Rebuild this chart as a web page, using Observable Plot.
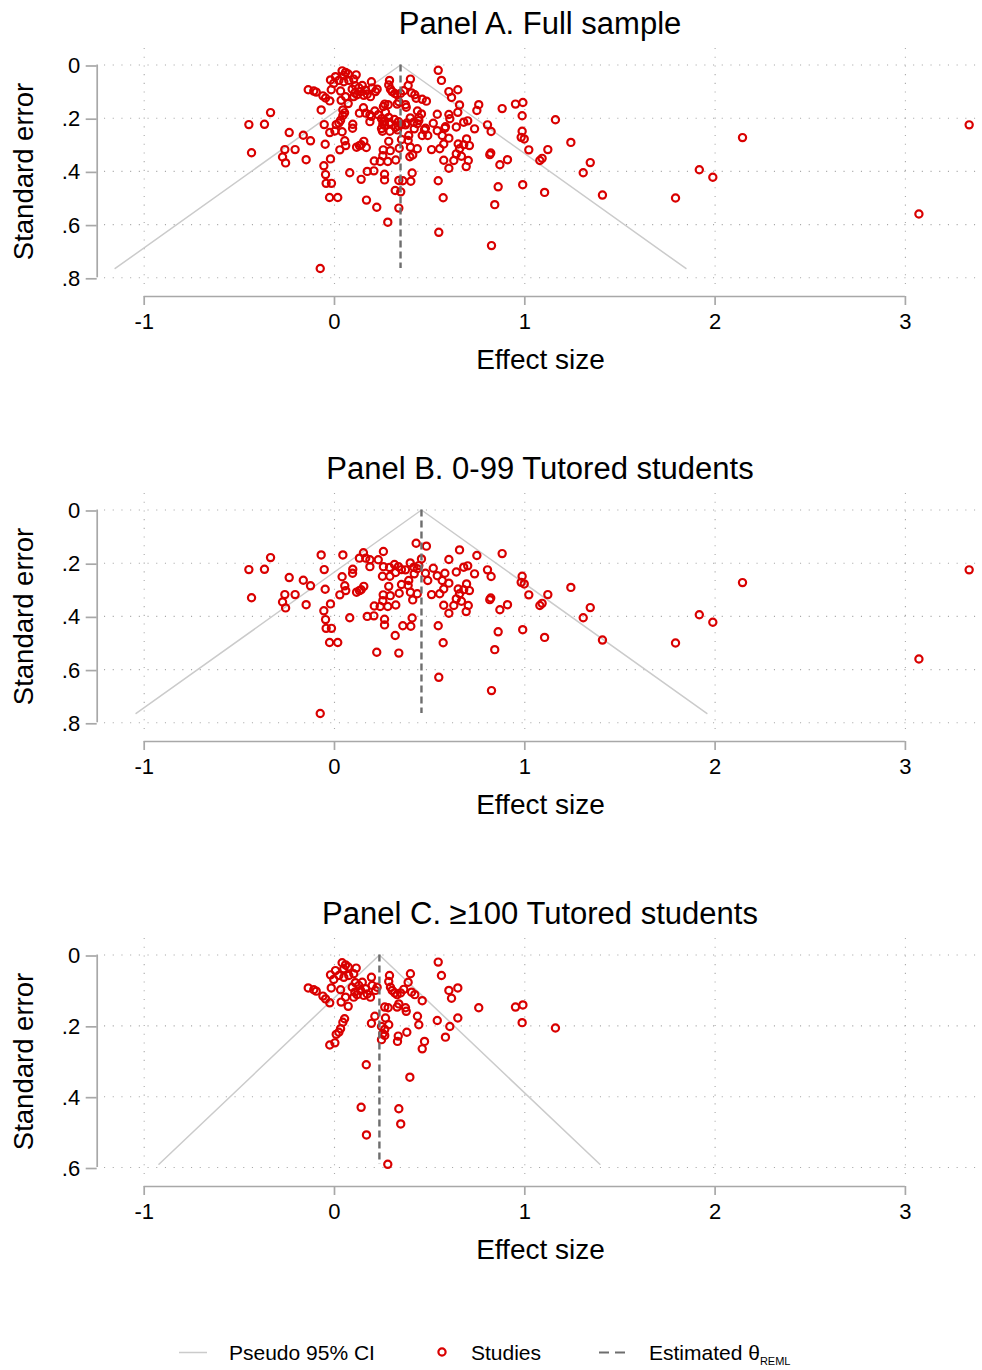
<!DOCTYPE html>
<html>
<head>
<meta charset="utf-8">
<script src="https://cdn.jsdelivr.net/npm/d3@7"></script>
<script src="https://cdn.jsdelivr.net/npm/@observablehq/plot@0.6"></script>
<style>
  body { margin: 0; background: #fff; font-family: "Liberation Sans", Arial, Helvetica, sans-serif; }
  #chart { position: relative; width: 982px; height: 1370px; overflow: hidden; }
  .panel { position: relative; width: 982px; height: 445px; }
  .ptitle { position: absolute; left: 100px; width: 880px; top: 0; height: 47px; line-height: 47px;
            text-align: center; font-size: 31px; color: #000; white-space: nowrap; }
  .panel svg { position: absolute; left: 0; top: 40px; }
  #legend { position: relative; width: 982px; height: 35px; font-size: 21px; color: #000; }
  #legend .lab { position: absolute; top: 0; height: 35px; line-height: 35px; white-space: nowrap; }
  #legend sub { font-size: 11px; vertical-align: -5px; }
</style>
</head>
<body>
<div id="chart"></div>
<script>
// ---------- data ----------
const panelTitles = ["Panel A. Full sample", "Panel B. 0-99 Tutored students", "Panel C. \u2265100 Tutored students"];
const xTicks = [-1, 0, 1, 2, 3];
const yTicksAB = [0, 0.2, 0.4, 0.6, 0.8];
const yTicksC = [0, 0.2, 0.4, 0.6];
const thetaA = 0.347, thetaB = 0.457, thetaC = 0.236;   // estimated theta (REML)

// Panel B: 0-99 tutored students
const esB = [-0.450,-0.368,-0.336,-0.436,-0.238,-0.164,-0.126,-0.261,-0.207,-0.273,-0.257,-0.149,-0.070,0.044,-0.054,-0.049,-0.021,-0.056,-0.047,-0.044,
  -0.016,-0.026,0.017,-0.075,0.040,0.054,0.059,0.028,0.080,0.096,0.095,0.152,0.131,0.164,0.186,0.186,0.230,0.257,0.116,0.131,
  0.154,0.140,0.172,0.207,0.209,0.222,0.338,0.319,0.263,0.263,0.240,0.280,0.322,0.256,0.254,0.285,0.293,0.340,0.352,0.252,
  0.291,0.359,0.257,0.289,0.315,0.336,0.352,0.321,0.429,0.483,0.457,0.398,0.373,0.417,0.435,0.443,0.419,0.478,0.519,0.540,
  0.580,0.601,0.657,0.748,0.881,0.640,0.679,0.700,0.736,0.804,0.823,0.986,0.981,0.997,1.021,1.121,1.079,1.091,0.390,0.387,
  0.399,0.411,0.435,0.490,0.510,0.566,0.601,0.553,0.574,0.574,0.601,0.627,0.640,0.657,0.667,0.679,0.694,0.709,0.692,0.703,
  0.650,0.816,0.821,0.869,0.909,0.408,0.401,0.545,0.571,0.860,0.842,0.989,1.104,0.548,0.825,1.242,1.344,1.307,1.408,1.792,
  1.917,1.988,2.144,3.071,3.335];
const seB = [0.224,0.223,0.179,0.330,0.254,0.264,0.285,0.318,0.318,0.346,0.368,0.356,0.169,0.169,0.224,0.298,0.353,0.379,0.412,0.445,
  0.445,0.498,0.498,0.765,0.251,0.285,0.303,0.319,0.405,0.223,0.238,0.161,0.181,0.181,0.187,0.213,0.187,0.156,0.309,0.303,
  0.287,0.300,0.400,0.398,0.361,0.535,0.538,0.472,0.411,0.432,0.363,0.363,0.357,0.319,0.341,0.287,0.322,0.313,0.280,0.249,
  0.249,0.435,0.213,0.216,0.205,0.213,0.224,0.235,0.125,0.136,0.184,0.199,0.225,0.215,0.221,0.209,0.240,0.238,0.219,0.247,
  0.238,0.186,0.150,0.171,0.164,0.233,0.215,0.210,0.240,0.225,0.250,0.249,0.272,0.278,0.319,0.318,0.359,0.351,0.265,0.284,
  0.309,0.338,0.315,0.265,0.318,0.265,0.275,0.315,0.297,0.358,0.388,0.359,0.334,0.315,0.343,0.300,0.278,0.303,0.382,0.359,
  0.297,0.337,0.331,0.375,0.356,0.406,0.437,0.435,0.499,0.458,0.525,0.450,0.479,0.629,0.679,0.291,0.367,0.405,0.489,0.500,
  0.394,0.422,0.273,0.560,0.225];

// Panel C: >=100 tutored students
const esC = [0.040,0.058,0.049,0.072,-0.021,0.005,-0.004,0.023,0.049,0.075,0.101,0.114,-0.138,-0.109,-0.096,-0.061,-0.047,-0.025,-0.017,0.032,
  0.035,0.072,0.058,0.093,0.110,0.128,0.146,0.107,0.137,0.163,0.172,0.189,0.154,0.198,0.224,0.215,0.194,0.119,0.101,0.289,
  0.285,0.294,0.303,0.317,0.329,0.347,0.364,0.399,0.387,0.405,0.422,0.461,0.264,0.282,0.329,0.338,0.373,0.377,0.212,0.194,
  0.247,0.264,0.254,0.268,0.285,0.247,0.264,0.053,0.044,0.032,0.023,0.009,0.002,-0.025,0.335,0.331,0.380,0.436,0.443,0.473,
  0.461,0.167,0.396,0.140,0.338,0.348,0.168,0.280,0.545,0.562,0.601,0.648,0.615,0.758,0.951,0.990,0.986,1.161,0.540,0.648,
  0.606,0.583];
const seC = [0.022,0.028,0.039,0.034,0.056,0.044,0.069,0.058,0.063,0.058,0.053,0.037,0.093,0.098,0.102,0.116,0.124,0.135,0.093,0.098,
  0.133,0.145,0.119,0.091,0.078,0.086,0.077,0.105,0.100,0.095,0.110,0.119,0.114,0.086,0.091,0.100,0.063,0.112,0.119,0.058,
  0.075,0.091,0.100,0.107,0.112,0.107,0.097,0.053,0.077,0.105,0.112,0.129,0.147,0.149,0.147,0.138,0.149,0.159,0.173,0.193,
  0.202,0.210,0.222,0.178,0.197,0.239,0.227,0.180,0.190,0.208,0.218,0.224,0.248,0.254,0.229,0.244,0.218,0.173,0.197,0.244,
  0.265,0.310,0.345,0.430,0.434,0.477,0.508,0.591,0.020,0.058,0.100,0.093,0.122,0.149,0.147,0.141,0.191,0.206,0.185,0.178,
  0.202,0.232];

// ---------- build ----------
const rows = (es, se) => es.map((e, i) => ({es: e, se: se[i]}));
const dataB = rows(esB, seB);
const dataC = rows(esC, seC);
const dataA = dataB.concat(dataC);

const red = "#d90000";
const gridC = "#a9a9a9";
const axisC = "#a8a8a8";
const ciC = "#cbcbcb";
const thetaCol = "#6e6e6e";
const fmtY = d => d === 0 ? "0" : String(d).replace(/^0/, "");

function panel(title, data, theta, yTicks, yDomain) {
  const seMax = d3.max(data, d => d.se);
  const funnel = [
    {es: theta - 1.96 * seMax, se: seMax},
    {es: theta, se: 0},
    {es: theta + 1.96 * seMax, se: seMax}
  ];
  const xDomain = [-1.2296, 3.3946];
  const plot = Plot.plot({
    width: 982, height: 405,
    marginTop: 8, marginBottom: 158, marginLeft: 100, marginRight: 2,
    style: {fontFamily: '"Liberation Sans", Arial, Helvetica, sans-serif', background: "transparent", overflow: "visible"},
    x: {domain: xDomain, axis: null},
    y: {domain: yDomain, reverse: true, axis: null},
    marks: [
      Plot.gridX({ticks: xTicks, stroke: gridC, strokeOpacity: 1, strokeWidth: 1.1, strokeDasharray: "1.1,7.6"}),
      Plot.gridY({ticks: yTicks, stroke: gridC, strokeOpacity: 1, strokeWidth: 1.1, strokeDasharray: "1.1,7.6", strokeDashoffset: -4}),
      // axis lines (Stata style, spanning the labelled range only)
      Plot.ruleY([yDomain[1]], {x1: xTicks[0], x2: xTicks[xTicks.length - 1], dy: 9, stroke: axisC, strokeWidth: 1.7}),
      Plot.ruleX([xDomain[0]], {y1: yTicks[0], y2: yTicks[yTicks.length - 1], dx: -3.3, stroke: axisC, strokeWidth: 1.7}),
      Plot.axisX({ticks: xTicks, tickFormat: d => String(d), tickSize: 9, tickPadding: 8, dy: 9,
                  stroke: axisC, strokeWidth: 1.7, fontSize: 22, fill: "#000", label: null}),
      Plot.axisY({ticks: yTicks, tickFormat: fmtY, tickSize: 11, tickPadding: 6, dx: -3.3, dy: 1,
                  stroke: axisC, strokeWidth: 1.7, fontSize: 22, fill: "#000", label: null}),
      Plot.text(["Effect size"], {frameAnchor: "bottom", lineAnchor: "middle", textAnchor: "middle", dy: 73, fontSize: 28, fill: "#000"}),
      Plot.text(["Standard error"], {frameAnchor: "left", textAnchor: "middle", lineAnchor: "middle", rotate: -90, dx: -76, dy: 3.5, fontSize: 27.5, fill: "#000"}),
      // pseudo 95% CI funnel
      Plot.line(funnel, {x: "es", y: "se", stroke: ciC, strokeWidth: 1.5}),
      // studies
      Plot.dot(data, {x: "es", y: "se", r: 3.6, stroke: red, strokeWidth: 2.2, fill: "none"}),
      // estimated theta
      Plot.ruleX([theta], {y1: 0, y2: seMax, stroke: thetaCol, strokeWidth: 2.4, strokeDasharray: "7,4"})
    ]
  });
  const div = document.createElement("div");
  div.className = "panel";
  const t = document.createElement("div");
  t.className = "ptitle";
  t.textContent = title;
  div.appendChild(t);
  div.appendChild(plot);
  return div;
}

const chart = document.getElementById("chart");
chart.appendChild(panel(panelTitles[0], dataA, thetaA, yTicksAB, [-0.062, 0.8365]));
chart.appendChild(panel(panelTitles[1], dataB, thetaB, yTicksAB, [-0.062, 0.8365]));
chart.appendChild(panel(panelTitles[2], dataC, thetaC, yTicksC, [-0.0466, 0.6282]));

// legend
const legend = document.createElement("div");
legend.id = "legend";
legend.innerHTML = `
  <svg width="982" height="35" style="position:absolute;left:0;top:0">
    <line x1="179" x2="207" y1="17.5" y2="17.5" stroke="${ciC}" stroke-width="1.5"/>
    <circle cx="442" cy="17" r="3.6" fill="none" stroke="${red}" stroke-width="2.2"/>
    <line x1="599" x2="625" y1="17.5" y2="17.5" stroke="${thetaCol}" stroke-width="2.2" stroke-dasharray="10,6"/>
  </svg>
  <div class="lab" style="left:229px">Pseudo 95% CI</div>
  <div class="lab" style="left:471px">Studies</div>
  <div class="lab" style="left:649px">Estimated \u03b8<sub>REML</sub></div>`;
chart.appendChild(legend);
</script>
</body>
</html>
